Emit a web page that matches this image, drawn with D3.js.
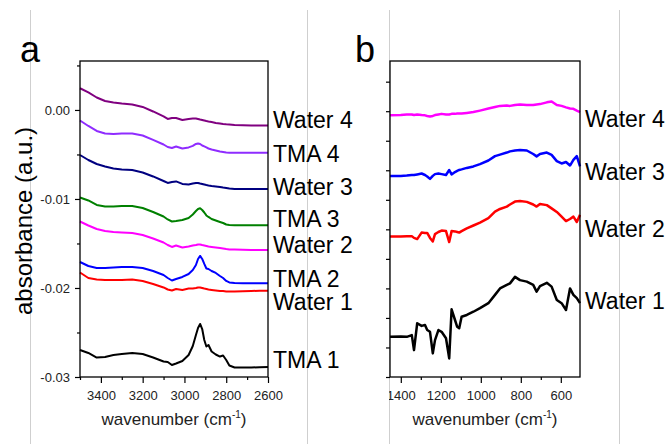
<!DOCTYPE html>
<html>
<head>
<meta charset="utf-8">
<script src="https://cdn.jsdelivr.net/npm/d3@7"></script>
<style>
  body { margin: 0; background: #fff; }
  svg { display: block; font-family: "Liberation Sans", Arial, sans-serif; }
</style>
</head>
<body>
<div id="chart"></div>
<script>
/* globals d3 */

// panel a: C-H stretch region
const wnA = [3500, 3460, 3420, 3380, 3340, 3300, 3250, 3200, 3150, 3100, 3080, 3060, 3040, 3010, 2980, 2960, 2945, 2935, 2925, 2915, 2905, 2895, 2885, 2870, 2850, 2830, 2815, 2800, 2785, 2760, 2720, 2680, 2640, 2600];
const namesA = ["Water 4", "TMA 4", "Water 3", "TMA 3", "Water 2", "TMA 2", "Water 1", "TMA 1"];
const water4A = [0.00244, 0.00197, 0.00140, 0.00101, 0.00084, 0.00073, 0.00062, 0.00034, -0.00017, -0.00073, -0.00101, -0.00090, -0.00090, -0.00112, -0.00101, -0.00096, -0.00096, -0.00101, -0.00107, -0.00112, -0.00118, -0.00124, -0.00129, -0.00135, -0.00146, -0.00152, -0.00157, -0.00161, -0.00164, -0.00169, -0.00172, -0.00174, -0.00174, -0.00174];
const tma4A = [-0.00118, -0.00180, -0.00236, -0.00264, -0.00270, -0.00264, -0.00264, -0.00287, -0.00337, -0.00388, -0.00416, -0.00427, -0.00410, -0.00433, -0.00421, -0.00404, -0.00382, -0.00376, -0.00382, -0.00399, -0.00410, -0.00421, -0.00433, -0.00444, -0.00455, -0.00466, -0.00472, -0.00478, -0.00480, -0.00480, -0.00480, -0.00480, -0.00480, -0.00480];
const water3A = [-0.00506, -0.00562, -0.00607, -0.00635, -0.00657, -0.00669, -0.00674, -0.00702, -0.00747, -0.00798, -0.00820, -0.00809, -0.00803, -0.00831, -0.00837, -0.00826, -0.00820, -0.00820, -0.00826, -0.00831, -0.00837, -0.00843, -0.00848, -0.00854, -0.00860, -0.00865, -0.00871, -0.00876, -0.00882, -0.00888, -0.00888, -0.00888, -0.00888, -0.00888];
const tma3A = [-0.00983, -0.01017, -0.01067, -0.01084, -0.01084, -0.01079, -0.01079, -0.01101, -0.01146, -0.01197, -0.01230, -0.01253, -0.01247, -0.01236, -0.01213, -0.01174, -0.01135, -0.01112, -0.01104, -0.01124, -0.01152, -0.01185, -0.01202, -0.01225, -0.01242, -0.01258, -0.01270, -0.01287, -0.01292, -0.01296, -0.01296, -0.01296, -0.01296, -0.01296];
const water2A = [-0.01253, -0.01298, -0.01337, -0.01360, -0.01371, -0.01376, -0.01382, -0.01404, -0.01444, -0.01489, -0.01517, -0.01539, -0.01522, -0.01545, -0.01534, -0.01522, -0.01517, -0.01511, -0.01511, -0.01517, -0.01522, -0.01528, -0.01534, -0.01539, -0.01545, -0.01551, -0.01556, -0.01562, -0.01567, -0.01567, -0.01571, -0.01573, -0.01573, -0.01573];
const tma2A = [-0.01708, -0.01753, -0.01775, -0.01775, -0.01770, -0.01764, -0.01764, -0.01775, -0.01809, -0.01854, -0.01888, -0.01916, -0.01899, -0.01876, -0.01843, -0.01798, -0.01742, -0.01674, -0.01640, -0.01674, -0.01730, -0.01781, -0.01787, -0.01809, -0.01831, -0.01865, -0.01888, -0.01921, -0.01938, -0.01944, -0.01947, -0.01947, -0.01947, -0.01947];
const water1A = [-0.01826, -0.01888, -0.01904, -0.01910, -0.01910, -0.01910, -0.01904, -0.01921, -0.01955, -0.01994, -0.02017, -0.02028, -0.02011, -0.02022, -0.02006, -0.02006, -0.02000, -0.01994, -0.01994, -0.02000, -0.02006, -0.02011, -0.02017, -0.02022, -0.02028, -0.02034, -0.02034, -0.02039, -0.02039, -0.02039, -0.02036, -0.02034, -0.02031, -0.02030];
const tma1A = [-0.02697, -0.02730, -0.02781, -0.02775, -0.02753, -0.02742, -0.02730, -0.02742, -0.02781, -0.02826, -0.02831, -0.02865, -0.02848, -0.02820, -0.02753, -0.02652, -0.02528, -0.02449, -0.02404, -0.02461, -0.02584, -0.02657, -0.02640, -0.02713, -0.02747, -0.02770, -0.02758, -0.02809, -0.02871, -0.02893, -0.02893, -0.02893, -0.02891, -0.02888];
const yTicksA = [0, -0.01, -0.02, -0.03];
const xTicksA = [3400, 3200, 3000, 2800, 2600];

// panel b: fingerprint region (unlabelled y axis)
const wnB = [1454, 1400, 1370, 1345, 1334, 1318, 1296, 1279, 1268, 1254, 1240, 1229, 1212, 1196, 1174, 1158, 1146, 1129, 1118, 1108, 1096, 1070, 1037, 1004, 962, 929, 904, 870, 854, 829, 804, 770, 738, 721, 704, 670, 646, 620, 596, 574, 554, 537, 520, 504];
const namesB = ["Water 4", "Water 3", "Water 2", "Water 1"];
const water4B = [8.86, 8.87, 8.89, 8.89, 8.87, 8.89, 8.87, 8.86, 8.84, 8.82, 8.84, 8.87, 8.89, 8.91, 8.89, 8.89, 8.91, 8.91, 8.92, 8.92, 8.92, 8.94, 8.97, 9.02, 9.09, 9.14, 9.18, 9.19, 9.18, 9.21, 9.23, 9.21, 9.21, 9.23, 9.24, 9.30, 9.33, 9.21, 9.18, 9.13, 9.09, 9.08, 9.02, 8.97];
const water3B = [6.81, 6.81, 6.82, 6.84, 6.84, 6.86, 6.89, 6.84, 6.79, 6.71, 6.81, 6.87, 6.89, 6.87, 6.84, 7.01, 6.86, 6.94, 6.98, 7.01, 7.03, 7.08, 7.13, 7.21, 7.33, 7.48, 7.53, 7.60, 7.64, 7.67, 7.69, 7.67, 7.55, 7.47, 7.55, 7.60, 7.52, 7.31, 7.23, 7.28, 7.16, 7.35, 7.48, 7.13];
const water2B = [4.76, 4.76, 4.77, 4.77, 4.71, 4.67, 4.89, 4.88, 4.88, 4.71, 4.59, 4.84, 4.91, 4.96, 4.94, 4.57, 4.94, 4.93, 4.91, 4.89, 4.94, 5.03, 5.13, 5.23, 5.38, 5.60, 5.69, 5.77, 5.84, 5.94, 5.96, 5.93, 5.84, 5.77, 5.86, 5.82, 5.71, 5.59, 5.43, 5.28, 5.35, 5.43, 5.25, 5.49];
const water1B = [1.36, 1.37, 1.36, 1.42, 0.91, 1.82, 1.73, 1.76, 1.59, 1.53, 0.80, 1.25, 1.59, 1.53, 1.31, 0.63, 2.29, 1.93, 1.70, 1.65, 2.04, 2.10, 2.21, 2.33, 2.50, 2.78, 3.00, 3.12, 3.17, 3.39, 3.28, 3.23, 3.12, 2.89, 3.08, 3.19, 3.06, 2.61, 2.50, 2.27, 3.00, 2.78, 2.67, 2.50];
const xTicksB = [1400, 1200, 1000, 800, 600];

// layout
const width = 672, height = 444;
const plotTop = 61, plotBottom = 377;
const colorsA = ["#800080", "#8f2cff", "#000080", "#008000", "#ff00ff", "#0000ff", "#ff0000", "#000000"];
const colorsB = ["#ff00ff", "#0000ff", "#ff0000", "#000000"];
const labelYA = [128, 162, 195, 227, 253, 287, 310, 368];
const labelYB = [127, 180, 237, 309];

const svg = d3.select("#chart").append("svg")
  .attr("width", width)
  .attr("height", height);

svg.append("rect").attr("width", width).attr("height", height).attr("fill", "#fff");

// light page separators from the source figure
svg.selectAll(".sep")
  .data([30, 307, 389, 619])
  .join("line")
  .attr("x1", d => d + 0.5).attr("x2", d => d + 0.5)
  .attr("y1", 10).attr("y2", height)
  .attr("stroke", "#cfcfcf").attr("stroke-width", 1);

svg.append("defs").append("clipPath").attr("id", "clipB")
  .append("rect").attr("x", 389).attr("y", 0).attr("width", 300).attr("height", height);

function drawPanel(opt) {
  const x = d3.scaleLinear().domain(opt.xDomain).range([opt.left, opt.right]);
  const y = d3.scaleLinear().domain(opt.yDomain).range([plotBottom, plotTop]);
  const g = svg.append("g");

  // minor ticks first, then labelled major ticks
  g.append("g")
    .attr("transform", `translate(0,${plotBottom})`)
    .call(d3.axisBottom(x).tickValues(opt.xMinor).tickSize(3).tickFormat(""))
    .call(a => a.select(".domain").remove());

  const xg = g.append("g")
    .attr("transform", `translate(0,${plotBottom})`)
    .call(d3.axisBottom(x).tickValues(opt.xMajor).tickSize(6).tickPadding(8).tickFormat(d3.format("d")))
    .call(a => a.select(".domain").remove());
  xg.selectAll("text").attr("font-size", 13).attr("fill", "#222").attr("font-family", null);
  if (opt.clipX) xg.attr("clip-path", "url(#clipB)");

  if (opt.yMinor) {
    g.append("g")
      .attr("transform", `translate(${opt.left},0)`)
      .call(d3.axisLeft(y).tickValues(opt.yMinor).tickSize(3).tickFormat(""))
      .call(a => a.select(".domain").remove());
  }
  const yg = g.append("g")
    .attr("transform", `translate(${opt.left},0)`)
    .call(d3.axisLeft(y).tickValues(opt.yMajor).tickSize(opt.yTickSize).tickPadding(5)
      .tickFormat(opt.yFormat))
    .call(a => a.select(".domain").remove());
  yg.selectAll("text").attr("font-size", 13).attr("fill", "#222").attr("font-family", null);
  g.selectAll(".tick line").attr("stroke", "#000").attr("stroke-width", 1.2);

  const line = d3.line()
    .x((d, i) => x(opt.wn[i]))
    .y(d => y(d));

  g.selectAll(".spec")
    .data(opt.series)
    .join("path")
    .attr("fill", "none")
    .attr("stroke", (d, i) => opt.colors[i])
    .attr("stroke-width", opt.lineWidth)
    .attr("stroke-linejoin", "round")
    .attr("d", d => line(d));

  g.append("rect")
    .attr("x", opt.left).attr("y", plotTop)
    .attr("width", opt.right - opt.left).attr("height", plotBottom - plotTop)
    .attr("fill", "none").attr("stroke", "#000").attr("stroke-width", 1.3);

  g.selectAll(".lab")
    .data(opt.names)
    .join("text")
    .attr("x", opt.right + 5)
    .attr("y", (d, i) => opt.labelY[i])
    .attr("font-size", 23)
    .text(d => d);

  // x axis title with superscript
  const t = g.append("text")
    .attr("x", (opt.left + opt.right) / 2)
    .attr("y", 425)
    .attr("text-anchor", "middle")
    .attr("font-size", 17)
    .attr("fill", "#222");
  t.append("tspan").text("wavenumber (cm");
  t.append("tspan").attr("font-size", 10).attr("dy", -7).text("-1");
  t.append("tspan").attr("dy", 7).text(")");

  g.append("text")
    .attr("x", opt.tagX).attr("y", 62)
    .attr("font-size", 36)
    .text(opt.tag);
}

drawPanel({
  left: 80, right: 268,
  xDomain: [3500, 2600], yDomain: [-0.03, 0.0055],
  wn: wnA,
  series: [water4A, tma4A, water3A, tma3A, water2A, tma2A, water1A, tma1A],
  names: namesA, colors: colorsA, labelY: labelYA,
  xMajor: xTicksA, xMinor: [3500, 3300, 3100, 2900, 2700],
  yMajor: yTicksA, yMinor: [0.005, -0.005, -0.015, -0.025], yTickSize: 5,
  yFormat: d => d.toFixed(2),
  lineWidth: 2, tag: "a", tagX: 20
});

drawPanel({
  left: 390, right: 580,
  xDomain: [1454, 504], yDomain: [0, 10.7],
  wn: wnB,
  series: [water4B, water3B, water2B, water1B],
  names: namesB, colors: colorsB, labelY: labelYB,
  xMajor: xTicksB, xMinor: [1300, 1100, 900, 700],
  yMajor: d3.range(0, 11), yMinor: null, yTickSize: 4,
  yFormat: () => "",
  lineWidth: 2.5, tag: "b", tagX: 355, clipX: true
});

// y axis title of panel a
svg.append("text")
  .attr("transform", "translate(32,221) rotate(-90)")
  .attr("text-anchor", "middle")
  .attr("font-size", 24)
  .text("absorbance (a.u.)");
</script>
</body>
</html>
